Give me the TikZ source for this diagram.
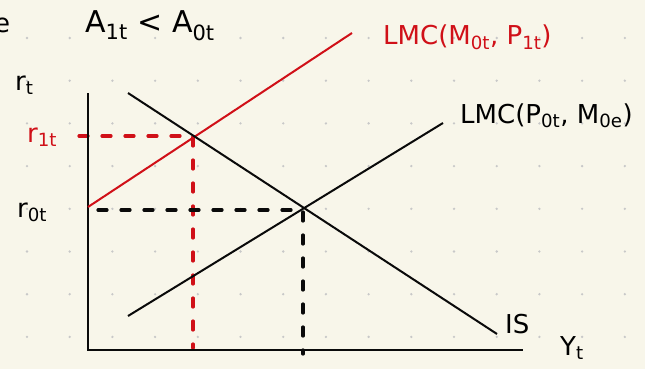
\documentclass[tikz,border=0pt]{standalone}
\usepackage{fontspec}
\setmainfont{DejaVu Sans}
\definecolor{paper}{RGB}{248,246,234}
\definecolor{dotc}{RGB}{200,200,200}
\definecolor{inkred}{RGB}{208,16,24}
\definecolor{ink}{RGB}{10,10,10}
\tikzset{
  curve/.style={line width=2pt, ink},
  redcurve/.style={line width=2pt, inkred},
  axisline/.style={line width=2.4pt, ink},
  guide/.style={line width=3.2pt, dash pattern=on 9pt off 14pt, line cap=round},
  lab/.style={anchor=base west, inner sep=0pt, font=\fontsize{26}{28}\selectfont},
}
\newcommand{\sbs}[1]{\textsubscript{#1}}
\begin{document}
\begin{tikzpicture}[x=1pt,y=-1pt]
\fill[paper] (0,0) rectangle (645,369);
\useasboundingbox (0,0) rectangle (645,369);
% dot grid
\foreach \i in {0,...,14}{
  \foreach \j in {0,...,7}{
    \fill[dotc] ({27+42.7*\i},{38+42.7*\j}) circle (1.3);
  }
}
% coordinates
\coordinate (ytop) at (88,93);
\coordinate (O) at (88,350);
\coordinate (xend) at (523,350);
\coordinate (lmr1) at (88,207);
\coordinate (lmr2) at (352,33);
\coordinate (lm1) at (128,316);
\coordinate (lm2) at (443,123);
\coordinate (is1) at (128,93);
\coordinate (is2) at (497,334);
\coordinate (E1) at (193,136);
\coordinate (E2) at (303,210);
\coordinate (r1s) at (79,136);
\coordinate (r0s) at (98,210);
\coordinate (E1b) at (193,348);
\coordinate (E2b) at (303,354);
% dashed guides
\draw[guide, inkred] (r1s) -- (E1) -- (E1b);
\draw[guide, ink] (r0s) -- (E2) -- (E2b);
% axes
\draw[axisline] (ytop) -- (O) -- (xend);
% curves
\draw[redcurve] (lmr1) -- (lmr2);
\draw[curve] (lm1) -- (lm2);
\draw[curve] (is1) -- (is2);
% labels
\node[lab] (le) at (-6,33) {e};
\node[lab, font=\fontsize{30}{32}\selectfont] (lA) at (85,33) {A\sbs{1t} < A\sbs{0t}};
\node[lab, text=inkred] (llmr) at (383,45) {LMC(M\sbs{0t}, P\sbs{1t})};
\node[lab] (llm) at (460,123) {LMC(P\sbs{0t}, M\sbs{0e})};
\node[lab] (lrt) at (15,90) {r\sbs{t}};
\node[lab, text=inkred] (lr1) at (27,142) {r\sbs{1t}};
\node[lab] (lr0) at (17,217) {r\sbs{0t}};
\node[lab] (lis) at (505,333) {IS};
\node[lab] (lyt) at (560,355) {Y\sbs{t}};
\end{tikzpicture}
\end{document}
